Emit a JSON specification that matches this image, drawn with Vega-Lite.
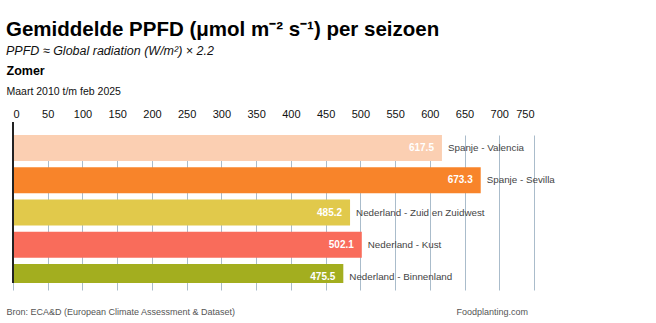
{
  "$schema": "https://vega.github.io/schema/vega-lite/v6.json",
  "width": 521,
  "height": 161,
  "autosize": "none",
  "padding": {"left": 13, "top": 122, "right": 122, "bottom": 40},
  "background": "white",
  "config": {
    "view": {"stroke": null},
    "font": "Liberation Sans",
    "text": {"font": "Liberation Sans"}
  },
  "title": {
    "text": "Gemiddelde PPFD (μmol m⁻² s⁻¹) per seizoen",
    "subtitle": "PPFD ≈ Global radiation (W/m²) × 2.2",
    "anchor": "start",
    "frame": "group",
    "dx": -7,
    "offset": 7,
    "font": "Liberation Sans",
    "fontSize": 20.5,
    "fontWeight": "bold",
    "color": "#000000",
    "subtitleFont": "Liberation Sans",
    "subtitleFontSize": 12.5,
    "subtitleFontStyle": "italic",
    "subtitleColor": "#111111",
    "subtitlePadding": 4
  },
  "data": {
    "values": [
      {"regio": "Spanje - Valencia", "waarde": 617.5},
      {"regio": "Spanje - Sevilla", "waarde": 673.3},
      {"regio": "Nederland - Zuid en Zuidwest", "waarde": 485.2},
      {"regio": "Nederland - Kust", "waarde": 502.1},
      {"regio": "Nederland - Binnenland", "waarde": 475.5}
    ]
  },
  "layer": [
    {
      "mark": {"type": "bar", "clip": true},
      "encoding": {
        "y": {
          "field": "regio",
          "type": "nominal",
          "sort": null,
          "scale": {"range": [13, 168], "paddingInner": 0.195, "paddingOuter": 0},
          "axis": {
            "orient": "left",
            "labels": false,
            "ticks": false,
            "domain": false,
            "grid": false,
            "title": "Zomer",
            "titleAngle": 0,
            "titleX": -7,
            "titleY": -48,
            "titleAlign": "left",
            "titleBaseline": "alphabetic",
            "titleFont": "Liberation Sans",
            "titleFontSize": 12.5,
            "titleFontWeight": "bold",
            "titleColor": "#000000"
          }
        },
        "x": {
          "field": "waarde",
          "type": "quantitative",
          "scale": {"domain": [0, 750], "nice": false},
          "axis": {
            "orient": "top",
            "values": [0, 50, 100, 150, 200, 250, 300, 350, 400, 450, 500, 550, 600, 650, 700, 750],
            "grid": true,
            "gridColor": "#aabccb",
            "gridWidth": 1,
            "domain": false,
            "ticks": false,
            "tickSize": 0,
            "labelPadding": 5,
            "labelBaseline": "alphabetic",
            "labelFont": "Liberation Sans",
            "labelFontSize": 11,
            "labelColor": "#111111",
            "title": "Maart 2010 t/m feb 2025",
            "titleX": -7,
            "titleY": -28,
            "titleAlign": "left",
            "titleAnchor": "start",
            "titleBaseline": "alphabetic",
            "titleFont": "Liberation Sans",
            "titleFontSize": 10.5,
            "titleFontWeight": "normal",
            "titleColor": "#111111"
          }
        },
        "color": {
          "field": "regio",
          "type": "nominal",
          "scale": {
            "domain": ["Spanje - Valencia", "Spanje - Sevilla", "Nederland - Zuid en Zuidwest", "Nederland - Kust", "Nederland - Binnenland"],
            "range": ["#fbcfb2", "#f8842a", "#e1c94b", "#f96c5b", "#a3ae1f"]
          },
          "legend": null
        }
      }
    },
    {
      "mark": {"type": "rule", "color": "#222222", "strokeWidth": 2},
      "encoding": {
        "x": {"datum": 0, "type": "quantitative", "axis": null}
      }
    },
    {
      "mark": {"type": "text", "align": "right", "baseline": "middle", "dx": -8, "fontSize": 10, "fontWeight": "bold", "color": "#ffffff", "font": "Liberation Sans"},
      "encoding": {
        "y": {"field": "regio", "type": "nominal", "sort": null, "axis": null},
        "x": {"field": "waarde", "type": "quantitative", "axis": null},
        "text": {"field": "waarde", "type": "quantitative", "format": ".1f"}
      }
    },
    {
      "mark": {"type": "text", "align": "left", "baseline": "middle", "dx": 6, "fontSize": 9.8, "color": "#444444", "font": "Liberation Sans"},
      "encoding": {
        "y": {
          "field": "regio",
          "type": "nominal",
          "sort": null,
          "axis": {
            "orient": "right",
            "labels": false,
            "ticks": false,
            "domain": false,
            "grid": false,
            "title": "Foodplanting.com",
            "titleAngle": 0,
            "titleX": -78,
            "titleY": 192,
            "titleAlign": "left",
            "titleBaseline": "alphabetic",
            "titleFont": "Liberation Sans",
            "titleFontSize": 9,
            "titleFontWeight": "normal",
            "titleColor": "#555555"
          }
        },
        "x": {
          "field": "waarde",
          "type": "quantitative",
          "axis": {
            "orient": "bottom",
            "labels": false,
            "ticks": false,
            "domain": false,
            "grid": false,
            "title": "Bron: ECA&D (European Climate Assessment & Dataset)",
            "titleX": -7,
            "titleY": 31,
            "titleAlign": "left",
            "titleAnchor": "start",
            "titleBaseline": "alphabetic",
            "titleFont": "Liberation Sans",
            "titleFontSize": 9,
            "titleFontWeight": "normal",
            "titleColor": "#555555"
          }
        },
        "text": {"field": "regio"}
      }
    }
  ],
  "resolve": {"axis": {"x": "independent", "y": "independent"}}
}
